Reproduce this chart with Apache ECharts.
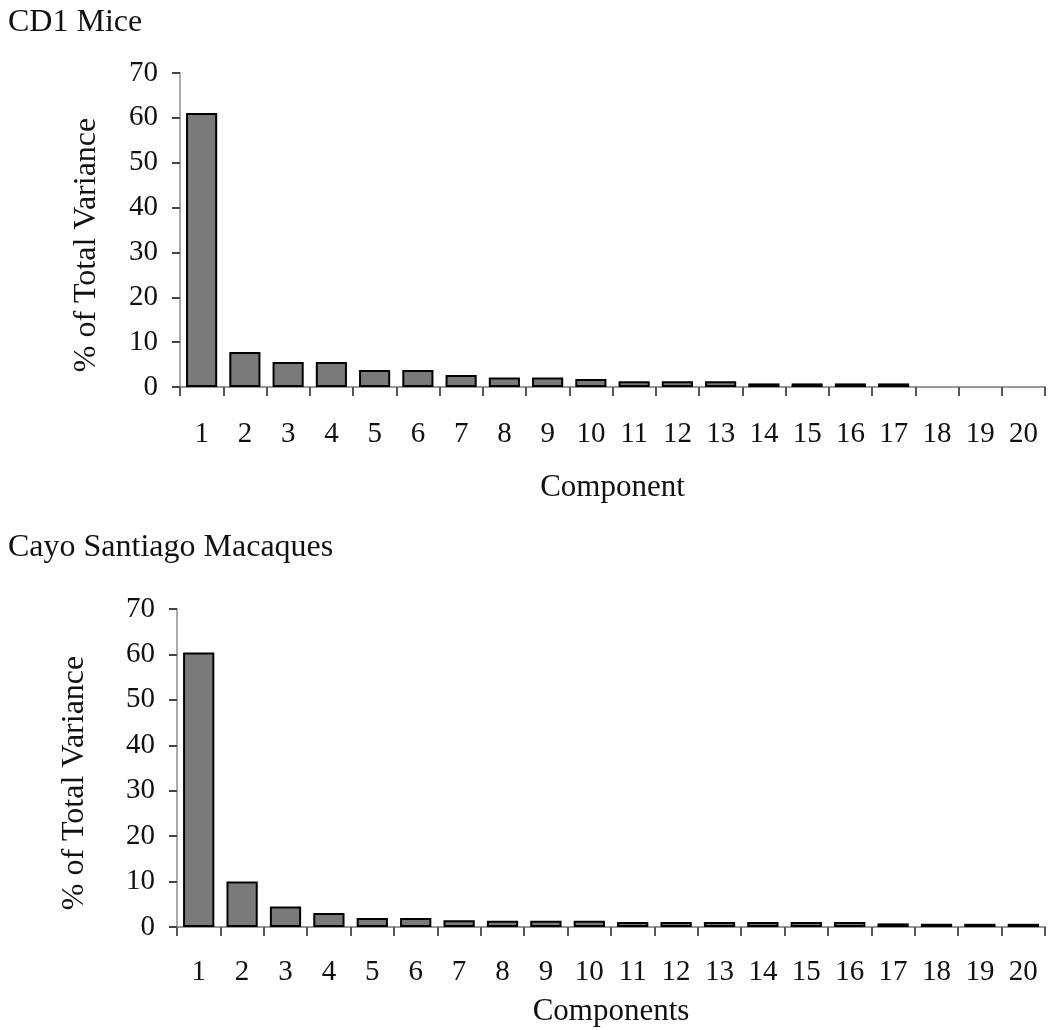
<!DOCTYPE html>
<html><head><meta charset="utf-8">
<script src="https://cdn.jsdelivr.net/npm/echarts@6/dist/echarts.min.js"></script>
<style>html,body{margin:0;padding:0;background:#fff}#c{width:1050px;height:1030px}</style>
</head><body><div id="c"></div>
<script>
const components = ['1','2','3','4','5','6','7','8','9','10','11','12','13','14','15','16','17','18','19','20'];
const miceVariance = [61.1, 7.8, 5.6, 5.6, 3.8, 3.8, 2.7, 2.1, 2.1, 1.8, 1.3, 1.3, 1.3, 0.8, 0.8, 0.8, 0.8, 0, 0, 0];
const macaqueVariance = [60.4, 10.0, 4.5, 3.1, 2.0, 2.0, 1.5, 1.4, 1.4, 1.4, 1.1, 1.1, 1.1, 1.1, 1.1, 1.1, 0.8, 0.7, 0.7, 0.7];
const yTicks = [0, 10, 20, 30, 40, 50, 60, 70];

const FONT = '"Liberation Serif", "DejaVu Serif", serif';
const chart = echarts.init(document.getElementById('c'), null, {renderer: 'canvas'});

function xAx(gi, name, gap, margin) {
  return {
    type: 'category', gridIndex: gi, data: components,
    name: name, nameLocation: 'middle', nameGap: gap,
    nameTextStyle: {fontFamily: FONT, fontSize: 31, color: '#111'},
    axisLine: {lineStyle: {color: '#999', width: 2}},
    axisTick: {show: true, length: 9, lineStyle: {color: '#555', width: 2}},
    axisLabel: {fontFamily: FONT, fontSize: 29, color: '#111', margin: margin, interval: 0}
  };
}
function yAx(gi, gap) {
  return {
    type: 'value', gridIndex: gi, min: 0, max: 70, interval: 10,
    name: '% of Total Variance', nameLocation: 'middle', nameGap: gap, nameRotate: 90,
    nameTextStyle: {fontFamily: FONT, fontSize: 32, color: '#111', padding: [0, 30, 0, 0]},
    axisLine: {show: true, lineStyle: {color: '#aaa', width: 2}},
    axisTick: {show: true, length: 8, lineStyle: {color: '#444', width: 2}},
    axisLabel: {fontFamily: FONT, fontSize: 29, color: '#111', margin: 22,
      formatter: v => yTicks.includes(v) ? String(v) : ''},
    splitLine: {show: false}
  };
}
function barSeries(gi, data) {
  return {
    type: 'bar', xAxisIndex: gi, yAxisIndex: gi,
    data: data.map(v => v === 0 ? {value: v, itemStyle: {borderWidth: 0}} : v),
    barCategoryGap: '28%',
    itemStyle: {color: '#7a7a7a', borderColor: '#000', borderWidth: 2},
    silent: true
  };
}

chart.setOption({
  animation: false,
  title: [
    {text: 'CD1 Mice', left: 3, top: 2, textStyle: {fontFamily: FONT, fontSize: 32, fontWeight: 'normal', color: '#111'}},
    {text: 'Cayo Santiago Macaques', left: 3, top: 527, textStyle: {fontFamily: FONT, fontSize: 32, fontWeight: 'normal', color: '#111'}}
  ],
  grid: [
    {left: 180, right: 5, top: 73, height: 314},
    {left: 177, right: 5, top: 609, height: 318}
  ],
  xAxis: [xAx(0, 'Component', 85, 33), xAx(1, 'Components', 69, 31)],
  yAxis: [yAx(0, 77), yAx(1, 86)],
  series: [barSeries(0, miceVariance), barSeries(1, macaqueVariance)]
});
</script></body></html>
